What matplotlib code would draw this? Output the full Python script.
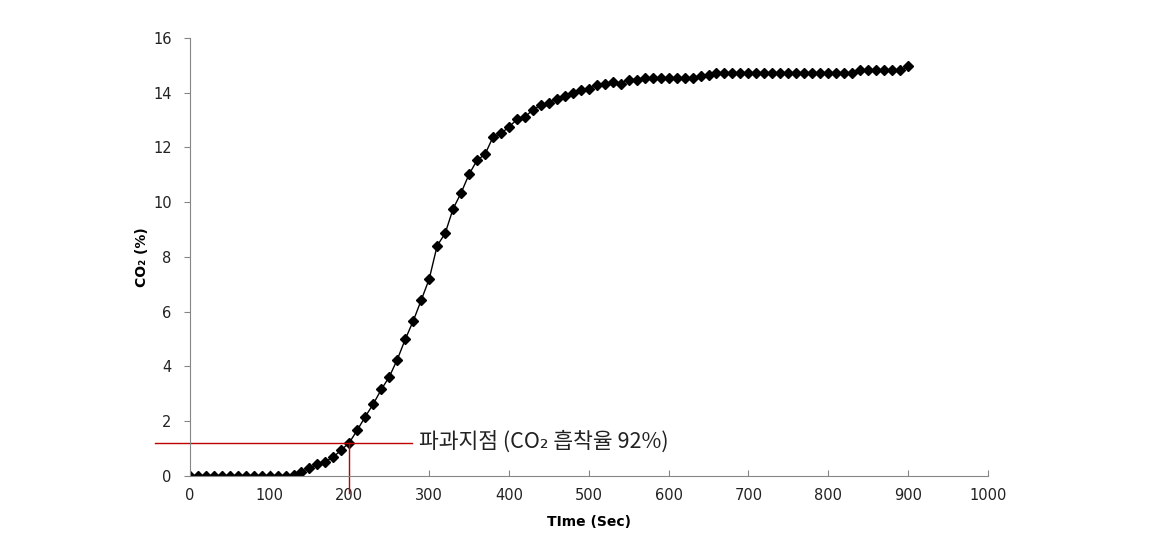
import matplotlib
matplotlib.use('Agg')
import matplotlib.pyplot as plt
import numpy as np

plt.rcParams['font.family'] = ['DejaVu Sans', 'Noto Sans CJK KR']

# time in seconds, one reading every 10 s
time_sec = list(range(0, 910, 10))
co2 = [0, 0, 0, 0, 0, 0, 0, 0, 0, 0,
       0, 0, 0, 0.02, 0.15, 0.3, 0.42, 0.52, 0.7, 0.95,
       1.22, 1.68, 2.17, 2.63, 3.16, 3.62, 4.25, 4.99, 5.66, 6.42,
       7.19, 8.41, 8.86, 9.76, 10.34, 11.02, 11.53, 11.75, 12.38, 12.51,
       12.75, 13.02, 13.11, 13.38, 13.54, 13.62, 13.78, 13.88, 14.0, 14.09,
       14.15, 14.27, 14.31, 14.39, 14.33, 14.48, 14.48, 14.52, 14.55, 14.55,
       14.55, 14.55, 14.55, 14.55, 14.6, 14.63, 14.72, 14.72, 14.72, 14.72,
       14.72, 14.72, 14.72, 14.72, 14.72, 14.72, 14.72, 14.72, 14.72, 14.72,
       14.72, 14.72, 14.72, 14.72, 14.82, 14.82, 14.82, 14.82, 14.82, 14.82,
       14.96]

x_ticks = list(range(0, 1001, 100))
y_ticks = list(range(0, 17, 2))

# breakthrough point
bp_time = 200
bp_co2 = 1.2
bp_label = '파과지점 (CO₂ 흡착율 92%)'

fig = plt.figure(figsize=(11.5, 5.49), dpi=100)
ax = fig.add_axes([0.165, 0.133, 0.694, 0.798])

ax.plot(time_sec, co2, color='black', linewidth=1, marker='D', markersize=5,
        markerfacecolor='black', markeredgecolor='black')

# red guide lines, reaching outside the plot area
ax.plot([-44, 278], [bp_co2, bp_co2], color='#c00000', linewidth=1, clip_on=False)
ax.plot([bp_time, bp_time], [bp_co2, -0.62], color='#c00000', linewidth=1, clip_on=False)
ax.text(287, bp_co2 + 0.05, bp_label, fontsize=15.5, va='center', ha='left',
        color='#222222', family=['Noto Sans CJK KR', 'DejaVu Sans'])

ax.set_xlim(0, 1000)
ax.set_ylim(0, 16)
ax.set_xticks(x_ticks)
ax.set_yticks(y_ticks)

for side in ['top', 'right']:
    ax.spines[side].set_visible(False)
for side in ['left', 'bottom']:
    ax.spines[side].set_color('#868686')
ax.tick_params(axis='x', colors='#868686', labelcolor='#222222', labelsize=10.5,
               length=4, direction='in', pad=9)
ax.tick_params(axis='y', colors='#868686', labelcolor='#222222', labelsize=10.5,
               length=4, direction='out', pad=9)

ax.set_xlabel('TIme (Sec)', fontsize=10, fontweight='bold', labelpad=8)
ax.set_ylabel('CO₂ (%)', fontsize=10, fontweight='bold', labelpad=3)

plt.savefig('out.png', dpi=100)
